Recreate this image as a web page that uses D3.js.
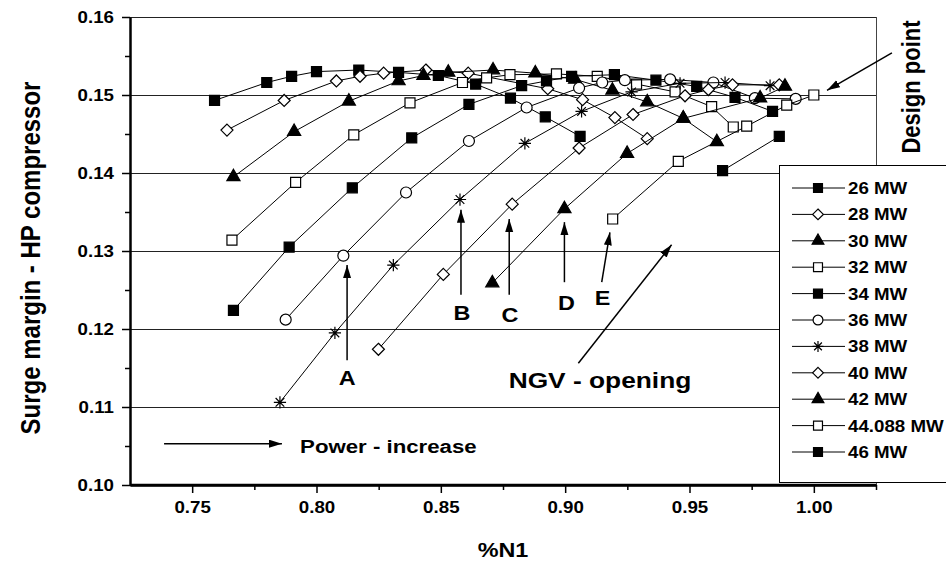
<!DOCTYPE html>
<html>
<head>
<meta charset="utf-8">
<script src="https://cdn.jsdelivr.net/npm/d3@7"></script>
<style>
  body { margin: 0; background: #fff; }
  text { font-family: Arial, "Liberation Sans", Helvetica, sans-serif; font-weight: bold; fill: #000; }
</style>
</head>
<body>
<div id="chart"></div>
<script>
// surge margin of the HP compressor against %N1, one line per power level

const powerLabels = ["26 MW", "28 MW", "30 MW", "32 MW", "34 MW", "36 MW",
                     "38 MW", "40 MW", "42 MW", "44.088 MW", "46 MW"];

const n1_26 = [0.759, 0.780, 0.790, 0.800, 0.817, 0.833, 0.849, 0.864, 0.878, 0.892, 0.906];
const sm_26 = [0.1493, 0.1516, 0.1524, 0.1530, 0.1532, 0.1529, 0.1525, 0.1514, 0.1496, 0.1472, 0.1447];

const n1_28 = [0.764, 0.787, 0.808, 0.8175, 0.827, 0.844, 0.861, 0.893, 0.907, 0.920, 0.933];
const sm_28 = [0.1455, 0.1493, 0.1518, 0.1524, 0.1528, 0.1532, 0.1528, 0.1508, 0.1494, 0.1471, 0.1444];

const n1_30 = [0.7666, 0.791, 0.813, 0.833, 0.843, 0.853, 0.871, 0.888, 0.904, 0.919, 0.933, 0.9475, 0.961];
const sm_30 = [0.1395, 0.1453, 0.1492, 0.1518, 0.1525, 0.1529, 0.1532, 0.1528, 0.1520, 0.1506, 0.1491, 0.1470, 0.1440];

const n1_32 = [0.766, 0.7916, 0.815, 0.8376, 0.8587, 0.8684, 0.8778, 0.8965, 0.9129, 0.9287, 0.9442, 0.9589, 0.9676];
const sm_32 = [0.1314, 0.1388, 0.1449, 0.1490, 0.1516, 0.1522, 0.1526, 0.1527, 0.1524, 0.1514, 0.1504, 0.1485, 0.1459];

const n1_34 = [0.7666, 0.789, 0.8144, 0.8383, 0.8613, 0.8825, 0.8925, 0.9026, 0.9198, 0.9365, 0.9529, 0.9683, 0.9834];
const sm_34 = [0.1224, 0.1305, 0.1381, 0.1445, 0.1488, 0.1512, 0.1518, 0.1524, 0.1526, 0.1519, 0.1511, 0.1497, 0.1479];

const n1_36 = [0.7876, 0.8108, 0.836, 0.8613, 0.8845, 0.9056, 0.9149, 0.924, 0.9422, 0.9596, 0.9763, 0.9927];
const sm_36 = [0.1212, 0.1294, 0.1375, 0.1441, 0.1484, 0.1509, 0.1516, 0.1519, 0.1520, 0.1516, 0.1496, 0.1495];

const n1_38 = [0.7853, 0.8074, 0.8309, 0.8577, 0.8838, 0.9066, 0.9267, 0.9462, 0.9643, 0.9824];
const sm_38 = [0.1106, 0.1195, 0.1282, 0.1366, 0.1438, 0.1479, 0.1504, 0.1515, 0.1516, 0.1512];

const n1_40 = [0.8249, 0.851, 0.8787, 0.9056, 0.9273, 0.9482, 0.9576, 0.9673, 0.9861];
const sm_40 = [0.1174, 0.1270, 0.1360, 0.1432, 0.1475, 0.1499, 0.1507, 0.1513, 0.1513];

const n1_42 = [0.8707, 0.8997, 0.9249, 0.9475, 0.9784, 0.9884];
const sm_42 = [0.1259, 0.1354, 0.1425, 0.1470, 0.1496, 0.1511];

const n1_44 = [0.9191, 0.9455, 0.973, 0.9891, 1.000];
const sm_44 = [0.1341, 0.1415, 0.1460, 0.1487, 0.1500];

const n1_46 = [0.9633, 0.9861];
const sm_46 = [0.1403, 0.1447];

const xTicks = [0.75, 0.80, 0.85, 0.90, 0.95, 1.00];
const yTicks = [0.10, 0.11, 0.12, 0.13, 0.14, 0.15, 0.16];

// marker style per series (legend order)
const symbolKinds = ["square", "diamond", "triangle", "square", "square", "circle",
                     "asterisk", "diamond", "triangle", "square", "square"];
const symbolFilled = [true, false, true, false, true, false, false, false, true, false, true];

const allN1 = [n1_26, n1_28, n1_30, n1_32, n1_34, n1_36, n1_38, n1_40, n1_42, n1_44, n1_46];
const allSM = [sm_26, sm_28, sm_30, sm_32, sm_34, sm_36, sm_38, sm_40, sm_42, sm_44, sm_46];

const width = 946;
const height = 565;
const sx = 1.17; // the original lettering is a little wide

const x = d3.scaleLinear().domain([0.725, 1.025]).range([130, 876]);
const y = d3.scaleLinear().domain([0.10, 0.16]).range([485, 17]);

const svg = d3.select("#chart").append("svg")
  .attr("width", width)
  .attr("height", height);

svg.append("rect").attr("width", width).attr("height", height).attr("fill", "#fff");

const defs = svg.append("defs");
defs.append("marker")
  .attr("id", "head")
  .attr("markerUnits", "userSpaceOnUse")
  .attr("markerWidth", 14).attr("markerHeight", 9)
  .attr("refX", 13).attr("refY", 4)
  .attr("orient", "auto")
  .append("path").attr("d", "M0,0 L13,4 L0,8 Z").attr("fill", "#000");

// custom symbols
const diamond45 = {
  draw(ctx, size) {
    const r = Math.sqrt(size / 2);
    ctx.moveTo(0, -r); ctx.lineTo(r, 0); ctx.lineTo(0, r); ctx.lineTo(-r, 0); ctx.closePath();
  }
};
const asterisk = {
  draw(ctx, size) {
    const r = Math.sqrt(size) / 2;
    [0, Math.PI / 4, Math.PI / 2, 3 * Math.PI / 4].forEach(a => {
      ctx.moveTo(r * Math.cos(a), r * Math.sin(a));
      ctx.lineTo(-r * Math.cos(a), -r * Math.sin(a));
    });
  }
};
const symbolTypes = {
  square: [d3.symbolSquare, 100],
  diamond: [diamond45, 72],
  triangle: [d3.symbolTriangle, 75],
  circle: [d3.symbolCircle, 95],
  asterisk: [asterisk, 150]
};

function drawSymbol(g, kind, filled, cx, cy, scale) {
  const [type, size] = symbolTypes[kind];
  const p = g.append("path")
    .attr("d", d3.symbol().type(type).size(size * scale)())
    .attr("transform", `translate(${cx},${cy})`)
    .attr("stroke", "#000")
    .attr("stroke-width", 1.2);
  if (kind === "asterisk") p.attr("fill", "none");
  else p.attr("fill", filled ? "#000" : "#fff");
  return p;
}

function addText(g, str, tx, ty, size, anchor) {
  return g.append("text")
    .attr("transform", `translate(${tx},${ty}) scale(${sx},1)`)
    .attr("text-anchor", anchor)
    .attr("font-size", size)
    .text(str);
}

// grid lines and frame
svg.append("g")
  .selectAll("line")
  .data(yTicks.slice(1))
  .enter().append("line")
  .attr("x1", x(0.725)).attr("x2", x(1.025))
  .attr("y1", d => Math.round(y(d)) + 0.5).attr("y2", d => Math.round(y(d)) + 0.5)
  .attr("stroke", "#222").attr("stroke-width", 1);

svg.append("line")
  .attr("x1", x(1.025) + 0.5).attr("x2", x(1.025) + 0.5)
  .attr("y1", y(0.16)).attr("y2", y(0.10))
  .attr("stroke", "#444").attr("stroke-width", 1);

// series
const line = d3.line()
  .defined(d => d[1] != null)
  .x(d => x(d[0]))
  .y(d => y(d[1]));

const plot = svg.append("g");
allN1.forEach((n1s, i) => {
  const pts = n1s.map((v, j) => [v, allSM[i][j]]);
  const g = plot.append("g");
  g.append("path")
    .datum(pts)
    .attr("d", line)
    .attr("fill", "none")
    .attr("stroke", "#000")
    .attr("stroke-width", 1);
  pts.forEach(p => drawSymbol(g, symbolKinds[i], symbolFilled[i], x(p[0]), y(p[1]), 1));
});

// annotations
const notes = svg.append("g");
function arrow(x1, y1, x2, y2) {
  notes.append("line")
    .attr("x1", x(x1)).attr("y1", y(y1))
    .attr("x2", x(x2)).attr("y2", y(y2))
    .attr("stroke", "#000").attr("stroke-width", 1.5)
    .attr("marker-end", "url(#head)");
}
arrow(0.8123, 0.1160, 0.8123, 0.1282);
addText(notes, "A", x(0.8123), y(0.1128), 20, "middle");
arrow(0.8581, 0.1244, 0.8581, 0.1353);
addText(notes, "B", x(0.8585), y(0.1212), 20, "middle");
arrow(0.8775, 0.1244, 0.8775, 0.1341);
addText(notes, "C", x(0.8778), y(0.1209), 20, "middle");
arrow(0.8997, 0.1260, 0.8997, 0.1337);
addText(notes, "D", x(0.9005), y(0.1224), 20, "middle");
arrow(0.9147, 0.1260, 0.9180, 0.1324);
addText(notes, "E", x(0.9150), y(0.1231), 20, "middle");
arrow(0.9053, 0.1156, 0.9428, 0.1308);
addText(notes, "NGV - opening", x(0.9140), y(0.1124), 22.5, "middle");
arrow(0.7387, 0.1053, 0.7861, 0.1053);
addText(notes, "Power - increase", x(0.7934), y(0.1041), 19, "start");
arrow(1.0314, 0.1554, 1.0053, 0.1506);
notes.append("text")
  .attr("transform", `translate(920,87) scale(${sx},1) rotate(-90)`)
  .attr("text-anchor", "middle")
  .attr("font-size", 22)
  .text("Design point");

// axes
const yAxis = svg.append("g")
  .attr("transform", `translate(${x(0.725)},0)`)
  .call(d3.axisLeft(y).tickValues(yTicks).tickFormat(d3.format(".2f")).tickSize(8).tickPadding(8).tickSizeOuter(0));
svg.append("g")
  .attr("transform", `translate(${x(0.725)},0)`)
  .call(d3.axisLeft(y).tickValues(d3.range(0.105, 0.16, 0.01)).tickFormat("").tickSize(5).tickSizeOuter(0))
  .select(".domain").remove();

const xAxis = svg.append("g")
  .attr("transform", `translate(0,${y(0.10)})`)
  .call(d3.axisBottom(x).tickValues(xTicks).tickFormat(d3.format(".2f")).tickSize(8).tickPadding(9).tickSizeOuter(0));
svg.append("g")
  .attr("transform", `translate(0,${y(0.10)})`)
  .call(d3.axisBottom(x).tickValues(d3.range(0.775, 1.03, 0.05)).tickFormat("").tickSize(5).tickSizeOuter(0))
  .select(".domain").remove();

svg.selectAll(".domain").attr("stroke-width", 2.5);
svg.selectAll(".tick line").attr("stroke-width", 1.5);
yAxis.selectAll(".tick text")
  .attr("font-size", 16).attr("font-family", null)
  .attr("transform", `scale(${sx},1)`)
  .attr("x", -16 / sx);
xAxis.selectAll(".tick text")
  .attr("font-size", 16).attr("font-family", null)
  .attr("transform", `scale(${sx},1)`)
  .attr("x", 0);

// axis titles
addText(svg, "%N1", x(0.875), 557, 20, "middle");
svg.append("text")
  .attr("transform", `translate(40,258) scale(${sx},1) rotate(-90)`)
  .attr("text-anchor", "middle")
  .attr("font-size", 24)
  .text("Surge margin - HP compressor");

// legend
const legend = svg.append("g");
legend.append("rect")
  .attr("x", 779.5).attr("y", 165.5)
  .attr("width", 200).attr("height", 317)
  .attr("fill", "#fff").attr("stroke", "#000").attr("stroke-width", 1);
powerLabels.forEach((label, i) => {
  const ly = 188 + i * 26.4;
  legend.append("line")
    .attr("x1", 792).attr("x2", 845)
    .attr("y1", ly).attr("y2", ly)
    .attr("stroke", "#000").attr("stroke-width", 1);
  drawSymbol(legend, symbolKinds[i], symbolFilled[i], 818, ly, 0.8);
  addText(legend, label, 848, ly + 6, 16, "start");
});

// x axis line over the legend bottom edge
svg.append("line")
  .attr("x1", x(0.725)).attr("x2", x(1.025))
  .attr("y1", y(0.10)).attr("y2", y(0.10))
  .attr("stroke", "#000").attr("stroke-width", 2.5);
</script>
</body>
</html>
